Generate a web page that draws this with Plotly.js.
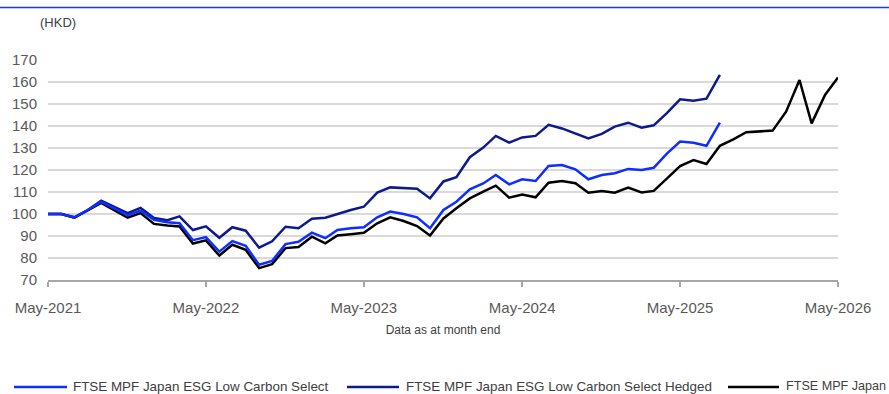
<!DOCTYPE html>
<html>
<head>
<meta charset="utf-8">
<script src="https://cdn.plot.ly/plotly-3.0.1.min.js"></script>
<style>
html,body{margin:0;padding:0;background:#fff;}
#chart{width:889px;height:394px;}
</style>
</head>
<body>
<div id="chart"></div>
<script>
// Month-end dates (May-2021 .. May-2026)
var months = [
 '2021-05-01','2021-06-01','2021-07-01','2021-08-01','2021-09-01','2021-10-01','2021-11-01','2021-12-01',
 '2022-01-01','2022-02-01','2022-03-01','2022-04-01','2022-05-01','2022-06-01','2022-07-01','2022-08-01',
 '2022-09-01','2022-10-01','2022-11-01','2022-12-01','2023-01-01','2023-02-01','2023-03-01','2023-04-01',
 '2023-05-01','2023-06-01','2023-07-01','2023-08-01','2023-09-01','2023-10-01','2023-11-01','2023-12-01',
 '2024-01-01','2024-02-01','2024-03-01','2024-04-01','2024-05-01','2024-06-01','2024-07-01','2024-08-01',
 '2024-09-01','2024-10-01','2024-11-01','2024-12-01','2025-01-01','2025-02-01','2025-03-01','2025-04-01',
 '2025-05-01','2025-06-01','2025-07-01','2025-08-01','2025-09-01','2025-10-01','2025-11-01','2025-12-01',
 '2026-01-01','2026-02-01','2026-03-01','2026-04-01','2026-05-01'
];

var seriesNames = [
 'FTSE MPF Japan ESG Low Carbon Select',
 'FTSE MPF Japan ESG Low Carbon Select Hedged',
 'FTSE MPF Japan'
];

var lowCarbon = [
 100,100,98.5,101.8,105.5,102.5,99.5,101.5,97.4,96.3,95.8,88.1,89.5,82.9,87.7,85.5,
 76.9,78.7,86.3,87.4,91.5,89,92.7,93.5,94,98.5,101.1,100,98.5,93.5,101.8,105.6,
 111.2,113.9,117.7,113.5,115.8,115,121.8,122.3,120.3,115.8,117.7,118.5,120.5,120,121,127.6,
 132.9,132.4,131,141.5
];

var lowCarbonHedged = [
 100,100,98.5,101.8,106,103.3,100.4,102.8,98.2,97.2,98.9,92.7,94.4,89.2,94,92.4,
 84.7,87.6,94.2,93.5,97.8,98.3,100,101.8,103.3,109.7,112.1,111.7,111.5,107.1,114.8,116.7,
 125.8,130.2,135.5,132.4,134.8,135.5,140.5,138.9,136.5,134.4,136.4,139.7,141.5,139.2,140.3,146,
 152.1,151.5,152.4,163.2
];

var japanIndex = [
 100,100,98.3,101.5,105,101.7,98.3,100.4,95.5,94.8,94.3,86.6,88,81.1,86,83.7,
 75.4,77.2,84.5,85,89.7,86.7,90.2,90.8,91.5,95.8,98.5,96.8,94.5,90.2,98,102.6,
 107.1,110.2,112.9,107.4,108.9,107.6,114.2,115,114,109.7,110.5,109.7,112,109.8,110.5,116.2,
 121.8,124.5,122.7,131,133.9,137.2,137.4,137.9,146.5,160.9,141.2,154.1,162.1
];

var yTicks = [70,80,90,100,110,120,130,140,150,160,170];
var xTickVals = ['2021-05-01','2022-05-01','2023-05-01','2024-05-01','2025-05-01','2026-05-01'];
var xTickText = ['May-2021','May-2022','May-2023','May-2024','May-2025','May-2026'];

var colors = ['#0F2DFF','#0D1A8E','#000000'];
var FONT = 'Arial, "Liberation Sans", sans-serif';

var traces = [
 {x: months.slice(0, lowCarbon.length), y: lowCarbon, name: seriesNames[0]},
 {x: months.slice(0, lowCarbonHedged.length), y: lowCarbonHedged, name: seriesNames[1]},
 {x: months.slice(0, japanIndex.length), y: japanIndex, name: seriesNames[2]}
].map(function(t, i){
  t.type = 'scatter'; t.mode = 'lines';
  t.line = {color: colors[i], width: 2.5};
  t.showlegend = false;
  return t;
});
traces = [traces[1], traces[2], traces[0]];

// plot area geometry: x 48..838, y 60..280
var L = 48, R = 838, T = 60, B = 280, W = 889, H = 394;
function px(x){ return (x - L) / (R - L); }
function py(y){ return (B - y) / (B - T); }

var shapes = [
 {type:'line', xref:'paper', yref:'paper', x0:px(0), x1:px(889), y0:py(7.5), y1:py(7.5),
  line:{color:'#1438FF', width:1.4}}
];
var annotations = [
 {xref:'paper', yref:'paper', x:px(38), y:py(23), xanchor:'left', yanchor:'middle',
  text:'(HKD)', showarrow:false, font:{family:FONT, size:13, color:'#404040'}}
];
var legendPos = [[14,67,72,13.4],[347,399,405,13.4],[728,779,785,12.6]];
var legendY = 386;
legendPos.forEach(function(p, i){
  shapes.push({type:'line', xref:'paper', yref:'paper', x0:px(p[0]), x1:px(p[1]), y0:py(legendY+1), y1:py(legendY+1),
    line:{color:colors[i], width:2.5}});
  annotations.push({xref:'paper', yref:'paper', x:px(p[2]), y:py(legendY), xanchor:'left', yanchor:'middle',
    text:seriesNames[i], showarrow:false, borderpad:0, font:{family:FONT, size:p[3], color:'#404040'}});
});

var layout = {
  width: W, height: H,
  margin: {l: L, r: W - R, t: T, b: H - B, pad: 0},
  paper_bgcolor: '#ffffff', plot_bgcolor: '#ffffff',
  font: {family: FONT, color: '#595959'},
  showlegend: false,
  xaxis: {
    type: 'date',
    range: ['2021-05-01','2026-05-01'],
    tickvals: xTickVals, ticktext: xTickText,
    showgrid: false, zeroline: false,
    showline: true, linecolor: '#A6A6A6', linewidth: 1.5,
    ticks: 'outside', ticklen: 5, tickcolor: '#A6A6A6', tickwidth: 1.5,
    tickfont: {family: FONT, size: 15, color: '#595959'},
    ticklabelstandoff: 8,
    title: {text: 'Data as at month end', font: {family: FONT, size: 12, color: '#404040'}, standoff: 11},
    fixedrange: true
  },
  yaxis: {
    range: [70, 170],
    tickvals: yTicks,
    showgrid: true, gridcolor: '#D9D9D9', gridwidth: 1.5,
    zeroline: false, showline: false, ticks: '',
    tickfont: {family: FONT, size: 15, color: '#595959'},
    ticklabelstandoff: 10,
    fixedrange: true
  },
  shapes: shapes,
  annotations: annotations
};

Plotly.newPlot('chart', traces, layout, {displayModeBar: false, staticPlot: true});
</script>
</body>
</html>
